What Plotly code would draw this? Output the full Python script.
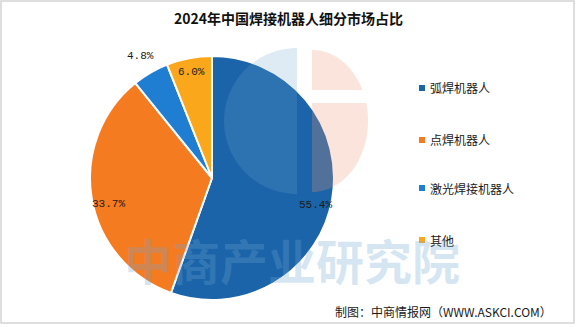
import numpy as np
import plotly.graph_objects as go

# Segment data
categories = ["弧焊机器人", "点焊机器人", "激光焊接机器人", "其他"]
shares = [55.4, 33.7, 4.8, 6.0]
colors = ["#1B64A9", "#F57B21", "#1F7ED1", "#FBA71C"]
label_radius = [0.86, 0.86, 1.16, 0.90]   # label distance as a fraction of the pie radius

title_text = "2024年中国焊接机器人细分市场占比"
source_text = "制图：中商情报网（WWW.ASKCI.COM）"
watermark_text = "中商产业研究院"

W, H = 576, 327
CX, CY, R = 212, 178, 122          # pie centre and radius in pixels

def px(x):
    return x / W

def py(y):
    return 1 - y / H

fig = go.Figure()

fig.add_trace(go.Pie(
    labels=categories,
    values=shares,
    sort=False,
    direction="clockwise",
    rotation=0,
    marker=dict(colors=colors, line=dict(color="white", width=2)),
    textinfo="none",
    hoverinfo="label+percent",
    showlegend=False,
    domain=dict(x=[px(CX - R), px(CX + R)], y=[py(CY + R), py(CY - R)]),
))

annotations = []
shapes = []

# Percentage labels placed at each slice's mid-angle
total = sum(shares)
start = 0.0
for val, k in zip(shares, label_radius):
    frac = val / total
    mid = (start + frac / 2) * 2 * np.pi
    start += frac
    lx = CX + k * R * np.sin(mid)
    ly = CY - k * R * np.cos(mid)
    if k < 1:
        ly += 9 * abs(np.sin(mid))
    annotations.append(dict(
        x=px(lx), y=py(ly), xref="paper", yref="paper",
        text=f"{val:.1f}%", showarrow=False,
        font=dict(family="Liberation Mono, DejaVu Sans Mono, monospace", size=11, color="#1a1a1a"),
        xanchor="center", yanchor="middle",
    ))

# Legend drawn as square swatches with labels
legend_y = [88, 140, 188, 240]
for name, col, ly in zip(categories, colors, legend_y):
    shapes.append(dict(
        type="rect", xref="paper", yref="paper",
        x0=px(419), x1=px(425), y0=py(ly + 3), y1=py(ly - 3),
        fillcolor=col, line=dict(width=0),
    ))
    annotations.append(dict(
        x=px(428), y=py(ly), xref="paper", yref="paper",
        text=name, showarrow=False, xanchor="left", yanchor="middle",
        font=dict(family="Noto Sans CJK SC", size=12, color="#1a1a1a"),
    ))

# Faint logo mark behind the title area
def poly_path(points):
    pts = [f"{px(x):.5f},{py(y):.5f}" for x, y in points]
    return "M" + " L".join(pts) + " Z"

t = np.linspace(0, np.pi, 60)
left_half = [(297 - 73 * np.sin(a), 121 - 73 * np.cos(a)) for a in t]
right_upper = [(312, 90)] + [(312 + 56 * np.sin(a), 121 - 71 * np.cos(a))
                             for a in np.linspace(0, np.arccos(31 / 71), 30)]
right_lower = [(312, 103)] + [(312 + 56 * np.sin(a), 121 - 71 * np.cos(a))
                              for a in np.linspace(np.arccos(18 / 71), np.pi, 40)]
shapes.append(dict(type="path", xref="paper", yref="paper", path=poly_path(left_half),
                   fillcolor="rgba(110,165,205,0.22)", line=dict(width=0), layer="above"))
shapes.append(dict(type="path", xref="paper", yref="paper", path=poly_path(right_upper),
                   fillcolor="rgba(235,150,115,0.26)", line=dict(width=0), layer="above"))
shapes.append(dict(type="path", xref="paper", yref="paper", path=poly_path(right_lower),
                   fillcolor="rgba(235,150,115,0.26)", line=dict(width=0), layer="above"))

# Large faint watermark text
annotations.append(dict(
    x=px(292), y=py(259), xref="paper", yref="paper",
    text=f"<b>{watermark_text}</b>", showarrow=False,
    font=dict(family="Noto Sans CJK SC", size=48, color="rgba(110,165,210,0.28)"),
    xanchor="center", yanchor="middle",
))

# Title and source line
annotations.append(dict(
    x=px(288), y=py(18), xref="paper", yref="paper",
    text=f"<b>{title_text}</b>", showarrow=False,
    font=dict(family="Noto Sans CJK SC", size=14, color="#111111"),
    xanchor="center", yanchor="middle",
))
annotations.append(dict(
    x=px(554), y=py(311), xref="paper", yref="paper",
    text=source_text, showarrow=False,
    font=dict(family="Noto Sans CJK SC", size=12, color="#1a1a1a"),
    xanchor="right", yanchor="middle",
))

# Thin outer frame
shapes.append(dict(type="rect", xref="paper", yref="paper",
                   x0=px(1), x1=px(574), y0=py(323), y1=py(1),
                   line=dict(color="#d4d4d4", width=1.5), fillcolor="rgba(0,0,0,0)"))

fig.update_layout(
    width=W, height=H,
    margin=dict(l=0, r=0, t=0, b=0),
    paper_bgcolor="white",
    plot_bgcolor="white",
    annotations=annotations,
    shapes=shapes,
    showlegend=False,
)

fig.write_html("out.html")
